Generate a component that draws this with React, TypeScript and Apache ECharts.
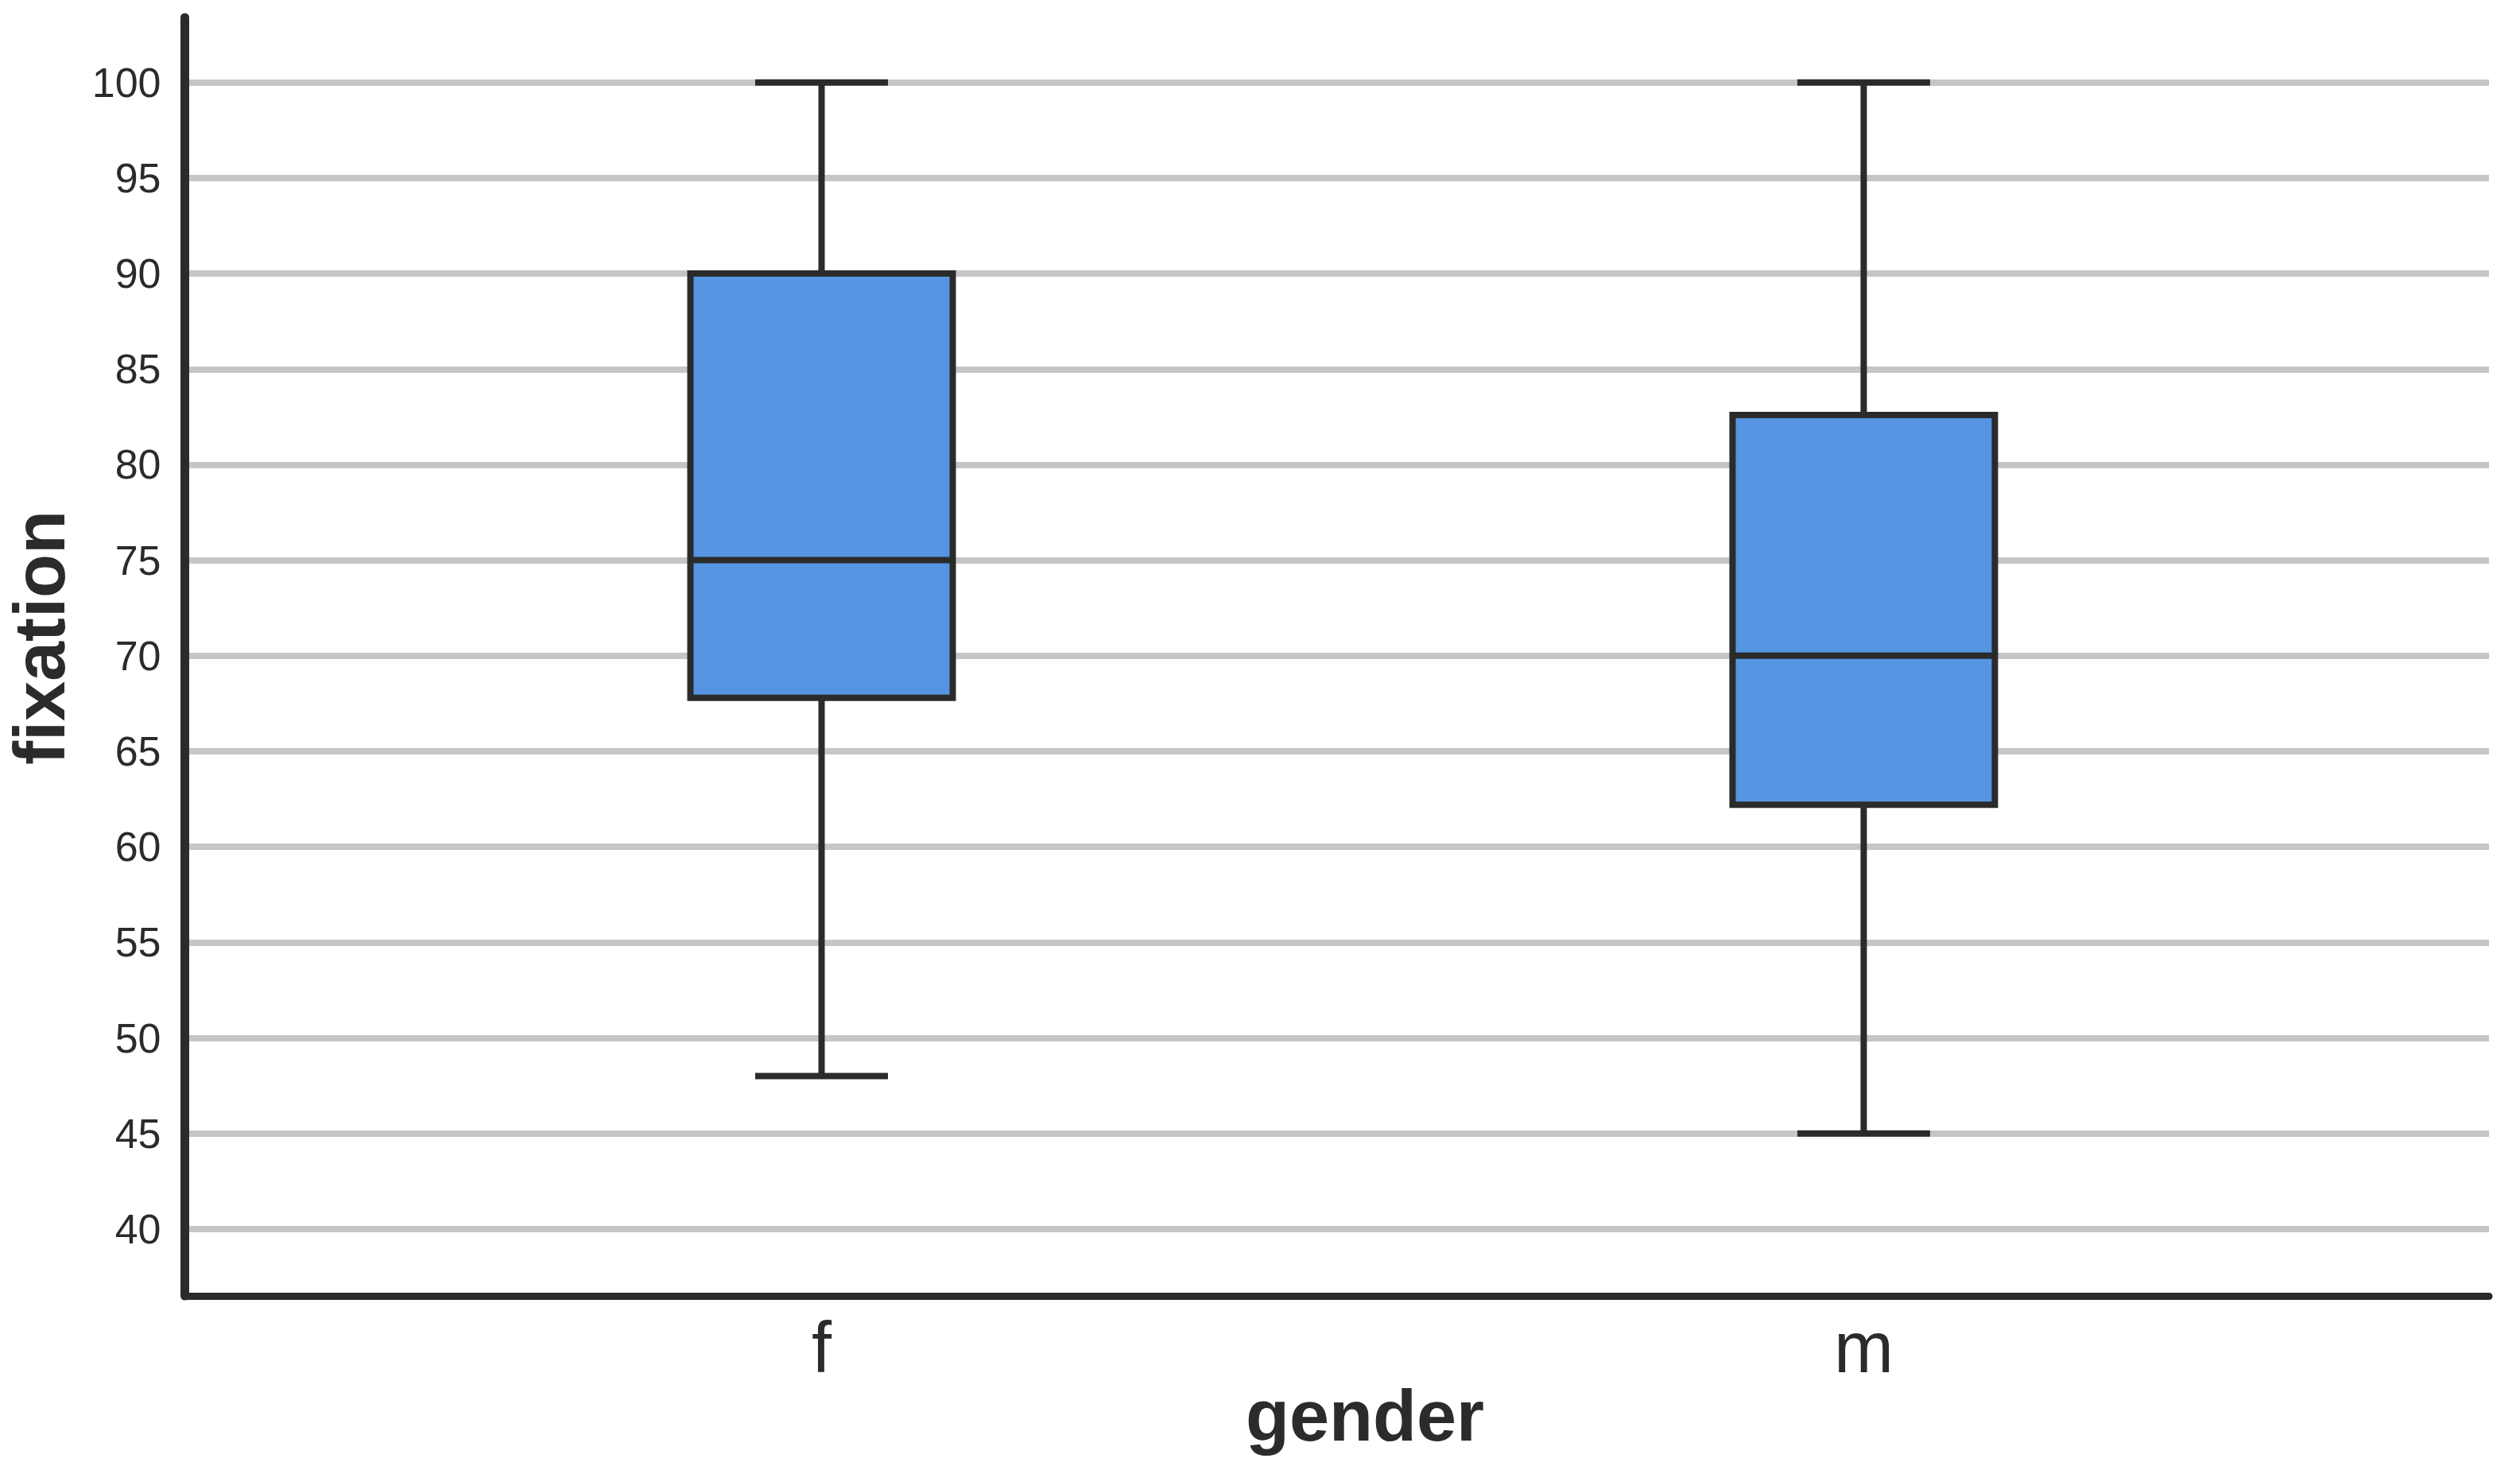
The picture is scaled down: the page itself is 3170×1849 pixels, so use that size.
import React, { useEffect, useRef } from "react";
import * as echarts from "echarts";

const categories = ["f", "m"];
// [min, Q1, median, Q3, max]
const boxMin = [48, 45];
const boxQ1 = [67.8, 62.2];
const boxMedian = [75, 70];
const boxQ3 = [90, 82.6];
const boxMax = [100, 100];

const yTickValues = [40, 45, 50, 55, 60, 65, 70, 75, 80, 85, 90, 95, 100];

const FONT = '"Liberation Sans", Arial, Helvetica, sans-serif';
const DARK = "#2b2b2b";

export default function App() {
  const ref = useRef<HTMLDivElement>(null);

  useEffect(() => {
    document.body.style.margin = "0";
    document.body.style.background = "#ffffff";
    if (!ref.current) return;
    const chart = echarts.init(ref.current, undefined, { renderer: "svg" });

    const data = categories.map((_, i) => [
      i,
      boxMin[i],
      boxQ1[i],
      boxMedian[i],
      boxQ3[i],
      boxMax[i],
    ]);

    const BOX_W = 330;
    const CAP_W = 167;
    const LW = 8;

    const option: any = {
      animation: false,
      backgroundColor: "#ffffff",
      grid: { left: 232.5, right: 39, top: 22, bottom: 219, containLabel: false },
      xAxis: {
        type: "value",
        min: -0.611,
        max: 1.6,
        axisLine: { show: true, onZero: false, lineStyle: { color: DARK, width: 9 } },
        axisTick: { show: false },
        splitLine: { show: false },
        axisLabel: {
          customValues: [0, 1],
          formatter: (v: number) => {
            const idx = Math.round(v);
            return Math.abs(v - idx) < 1e-6 && categories[idx] !== undefined ? categories[idx] : "";
          },
          fontFamily: FONT,
          fontSize: 90,
          color: DARK,
          margin: 20,
        },
      },
      yAxis: {
        type: "value",
        min: 36.5,
        max: 103.4,
        splitNumber: 14,
        minInterval: 5,
        maxInterval: 5,
        axisLine: { show: true, onZero: false, lineStyle: { color: DARK, width: 11 } },
        axisTick: { show: false },
        axisLabel: {
          showMinLabel: false,
          showMaxLabel: false,
          formatter: (v: number) => (yTickValues.indexOf(v) >= 0 ? String(v) : ""),
          fontFamily: FONT,
          fontSize: 52,
          color: DARK,
          margin: 30,
        },
        splitLine: {
          show: true,
          showMinLine: false,
          showMaxLine: false,
          lineStyle: { color: "#c6c6c6", width: 8 },
        },
      },
      graphic: [
        {
          type: "text",
          x: 50,
          y: 802,
          rotation: Math.PI / 2,
          style: {
            text: "fixation",
            font: `bold 90px ${FONT}`,
            fill: DARK,
            align: "center",
            verticalAlign: "middle",
          },
        },
        {
          type: "text",
          x: 1717,
          y: 1781,
          style: {
            text: "gender",
            font: `bold 90px ${FONT}`,
            fill: DARK,
            align: "center",
            verticalAlign: "middle",
          },
        },
      ],
      series: [
        {
          type: "custom",
          data,
          encode: { x: 0, y: [1, 2, 3, 4, 5] },
          clip: false,
          renderItem: (params: any, api: any) => {
            const xv = api.value(0);
            const pMin = api.coord([xv, api.value(1)]);
            const pQ1 = api.coord([xv, api.value(2)]);
            const pMed = api.coord([xv, api.value(3)]);
            const pQ3 = api.coord([xv, api.value(4)]);
            const pMax = api.coord([xv, api.value(5)]);
            const cx = pMed[0];
            const lineStyle = { stroke: DARK, lineWidth: LW, fill: null };
            return {
              type: "group",
              children: [
                { type: "line", shape: { x1: cx, y1: pMax[1], x2: cx, y2: pQ3[1] }, style: lineStyle },
                { type: "line", shape: { x1: cx, y1: pQ1[1], x2: cx, y2: pMin[1] }, style: lineStyle },
                {
                  type: "line",
                  shape: { x1: cx - CAP_W / 2, y1: pMax[1], x2: cx + CAP_W / 2, y2: pMax[1] },
                  style: lineStyle,
                },
                {
                  type: "line",
                  shape: { x1: cx - CAP_W / 2, y1: pMin[1], x2: cx + CAP_W / 2, y2: pMin[1] },
                  style: lineStyle,
                },
                {
                  type: "rect",
                  shape: { x: cx - BOX_W / 2, y: pQ3[1], width: BOX_W, height: pQ1[1] - pQ3[1] },
                  style: { fill: "#5595e2", stroke: DARK, lineWidth: LW },
                },
                {
                  type: "line",
                  shape: { x1: cx - BOX_W / 2, y1: pMed[1], x2: cx + BOX_W / 2, y2: pMed[1] },
                  style: lineStyle,
                },
              ],
            };
          },
        },
      ],
    };

    chart.setOption(option);
    return () => chart.dispose();
  }, []);

  return <div ref={ref} style={{ width: 3170, height: 1849 }} />;
}
